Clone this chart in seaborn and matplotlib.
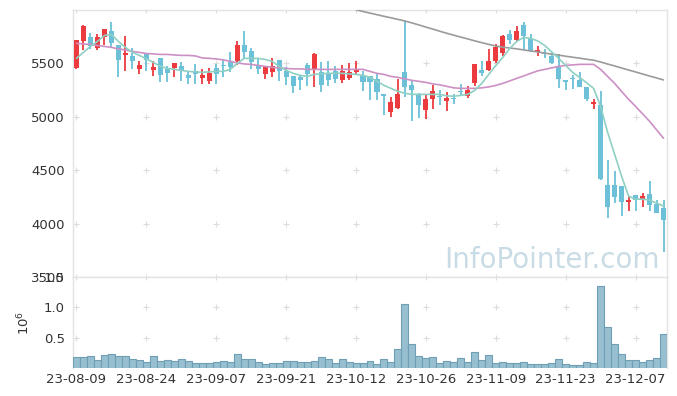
import numpy as np
import pandas as pd
import matplotlib
matplotlib.use("Agg")
import matplotlib.pyplot as plt
import seaborn as sns

# daily candles (KRW)
opens = [5456, 5706, 5743, 5643, 5746, 5799, 5668, 5578, 5565, 5444,
         5593, 5437, 5547, 5444, 5456, 5472, 5388, 5425, 5363, 5332,
         5456, 5488, 5509, 5519, 5668, 5612, 5478, 5400, 5416, 5528,
         5425, 5378, 5369, 5488, 5441, 5416, 5409, 5425, 5348, 5363,
         5419, 5378, 5378, 5357, 5217, 5045, 5082, 5416, 5301, 5201,
         5061, 5167, 5198, 5145, 5176, 5245, 5192, 5316, 5441, 5435,
         5519, 5596, 5778, 5721, 5862, 5731, 5606, 5596, 5565, 5478,
         5348, 5357, 5348, 5276, 5123, 5107, 4360, 4360, 4350, 4204,
         4266, 4220, 4273, 4180, 4142]
highs = [5720, 5864, 5780, 5774, 5825, 5883, 5668, 5752, 5643, 5519,
         5596, 5519, 5547, 5472, 5500, 5509, 5425, 5491, 5444, 5456,
         5491, 5528, 5603, 5712, 5799, 5643, 5547, 5465, 5547, 5528,
         5465, 5378, 5378, 5503, 5596, 5509, 5519, 5472, 5488, 5503,
         5519, 5425, 5378, 5400, 5217, 5185, 5357, 5899, 5332, 5222,
         5201, 5301, 5254, 5232, 5210, 5304, 5285, 5497, 5519, 5634,
         5680, 5768, 5815, 5846, 5883, 5774, 5665, 5634, 5596, 5590,
         5348, 5388, 5419, 5276, 5170, 5238, 4591, 4497, 4350, 4257,
         4266, 4288, 4397, 4217, 4217]
lows = [5450, 5621, 5631, 5624, 5668, 5650, 5369, 5425, 5444, 5400,
        5425, 5378, 5322, 5322, 5369, 5332, 5307, 5307, 5307, 5307,
        5307, 5369, 5416, 5488, 5547, 5444, 5400, 5350, 5369, 5338,
        5301, 5222, 5254, 5292, 5276, 5232, 5285, 5316, 5316, 5348,
        5388, 5238, 5161, 5161, 5021, 4995, 5077, 5185, 4958, 4989,
        4983, 5077, 5114, 5051, 5117, 5192, 5176, 5285, 5378, 5425,
        5503, 5565, 5681, 5706, 5628, 5606, 5565, 5550, 5497, 5269,
        5254, 5263, 5279, 5151, 5077, 4404, 4049, 4189, 4070, 4117,
        4117, 4157, 4117, 4095, 3736]
closes = [5715, 5846, 5665, 5743, 5818, 5690, 5531, 5596, 5519, 5481,
          5528, 5463, 5388, 5407, 5500, 5437, 5363, 5400, 5388, 5409,
          5400, 5472, 5465, 5668, 5606, 5509, 5447, 5465, 5478, 5432,
          5369, 5292, 5341, 5400, 5587, 5301, 5341, 5357, 5425, 5416,
          5441, 5325, 5325, 5232, 5198, 5136, 5217, 5279, 5248, 5107,
          5170, 5238, 5185, 5176, 5167, 5232, 5254, 5497, 5409, 5525,
          5652, 5759, 5721, 5799, 5759, 5612, 5628, 5590, 5503, 5354,
          5325, 5350, 5279, 5167, 5139, 4419, 4154, 4251, 4204, 4217,
          4220, 4257, 4173, 4101, 4033]
volumes = [176000, 176000, 197000, 131000, 208000, 225000, 192000, 192000, 143000, 131000,
           93000, 192000, 115000, 131000, 115000, 143000, 115000, 77000, 77000, 77000,
           93000, 115000, 93000, 225000, 143000, 143000, 93000, 61000, 77000, 77000,
           115000, 115000, 93000, 93000, 115000, 176000, 143000, 77000, 142000, 93000,
           77000, 77000, 115000, 61000, 142000, 93000, 307000, 1062000, 389000, 192000,
           159000, 175000, 77000, 115000, 93000, 159000, 93000, 257000, 131000, 208000,
           77000, 93000, 77000, 77000, 93000, 61000, 61000, 61000, 77000, 142000,
           61000, 44000, 44000, 93000, 77000, 1346000, 679000, 389000, 225000, 126000,
           126000, 93000, 126000, 159000, 553000]

# moving average lines as drawn on the chart
ma5 = [5547, 5604, 5659, 5706, 5762, 5771, 5706, 5650, 5603, 5575,
       5542, 5509, 5472, 5453, 5444, 5435, 5425, 5421, 5416, 5421,
       5425, 5425, 5444, 5500, 5547, 5547, 5547, 5537, 5519, 5472,
       5435, 5407, 5388, 5378, 5397, 5402, 5407, 5407, 5407, 5402,
       5397, 5388, 5369, 5332, 5294, 5266, 5238, 5220, 5210, 5210,
       5210, 5210, 5210, 5196, 5192, 5201, 5210, 5248, 5313, 5397,
       5481, 5556, 5640, 5706, 5743, 5734, 5710, 5668, 5607, 5547,
       5481, 5416, 5369, 5318, 5266, 5098, 4855, 4650, 4444, 4257,
       4229, 4229, 4220, 4192, 4164]
ma20 = [5687, 5682, 5678, 5668, 5659, 5650, 5636, 5626, 5612, 5603,
        5593, 5589, 5584, 5584, 5579, 5575, 5575, 5570, 5551, 5547,
        5542, 5533, 5519, 5505, 5495, 5491, 5481, 5472, 5463, 5458,
        5453, 5449, 5449, 5444, 5444, 5444, 5444, 5444, 5444, 5444,
        5444, 5444, 5425, 5407, 5397, 5378, 5369, 5355, 5341, 5332,
        5322, 5308, 5299, 5285, 5271, 5266, 5266, 5266, 5271, 5280,
        5294, 5313, 5336, 5360, 5383, 5407, 5430, 5444, 5458, 5472,
        5481, 5486, 5491, 5491, 5491, 5444, 5378, 5313, 5238, 5164,
        5098, 5028, 4958, 4879, 4799]
ma_long = [np.nan] * 40 + [
    6002, 5986, 5971, 5956, 5941, 5927, 5912, 5897, 5879, 5860,
    5840, 5821, 5801, 5782, 5764, 5746, 5729, 5711, 5694, 5678,
    5663, 5652, 5644, 5636, 5626, 5616, 5607, 5597, 5587, 5578,
    5567, 5558, 5549, 5539, 5530, 5513, 5494, 5476, 5457, 5438,
    5420, 5401, 5382, 5364, 5345]

tick_labels = ["23-08-09", "23-08-24", "23-09-07", "23-09-21", "23-10-12",
               "23-10-26", "23-11-09", "23-11-23", "23-12-07"]

sns.set_theme(style="white")
plt.rcParams["font.family"] = ["DejaVu Sans"]

df = pd.DataFrame({"Open": opens, "High": highs, "Low": lows, "Close": closes,
                   "Volume": volumes, "MA5": ma5, "MA20": ma20, "MALong": ma_long})
df["idx"] = np.arange(len(df))
df["VolM"] = df["Volume"] / 1e6

UP = "#ec3b3f"
DOWN = "#6cc0d8"
GRID = "#dcdcdc"
SPINE = "#e3e3e3"
TXT = "#333333"

fig = plt.figure(figsize=(6.77, 3.96), dpi=100)
ax = fig.add_axes([73 / 677, 1 - 277 / 396, 594 / 677, 267 / 396])
axv = fig.add_axes([73 / 677, 1 - 368 / 396, 594 / 677, 91 / 396], sharex=ax)

# watermark
ax.text(0.988, 0.035, "InfoPointer.com", transform=ax.transAxes, ha="right",
        va="baseline", fontsize=20, color="#c9dce6", zorder=0)

xt = list(range(0, 81, 10))
yt = [3500, 4000, 4500, 5000, 5500]
gx, gy = np.meshgrid(xt, yt + [6000])
ax.scatter(gx.ravel(), gy.ravel(), marker="+", s=22, color=GRID, linewidths=0.8, zorder=1)

# candles
colors = [UP if c >= o else DOWN for o, c in zip(df["Open"], df["Close"])]
ax.vlines(df["idx"], df["Low"], df["High"], colors=colors, linewidth=1.3, zorder=3)
body_lo = np.minimum(df["Open"], df["Close"])
body_h = np.maximum(np.abs(df["Close"] - df["Open"]), 12)
ax.bar(df["idx"], body_h, bottom=body_lo, width=0.72, color=colors, linewidth=0, zorder=4)

sns.lineplot(data=df, x="idx", y="MALong", ax=ax, color="#9b9b9b", linewidth=1.2, zorder=5)
sns.lineplot(data=df, x="idx", y="MA20", ax=ax, color="#cc90c5", linewidth=1.2, zorder=5)
sns.lineplot(data=df, x="idx", y="MA5", ax=ax, color="#8ed0c3", linewidth=1.2, zorder=5)

ax.set_xlim(-0.5, 84.5)
ax.set_ylim(3500, 6000)
ax.set_yticks(yt)
ax.set_yticklabels([str(v) for v in yt])
ax.set_xlabel("")
ax.set_ylabel("")
ax.tick_params(axis="x", labelbottom=False, length=0)
ax.tick_params(axis="y", length=0, labelsize=9.5, labelcolor=TXT, pad=6)

# volume
vx, vy = np.meshgrid(xt, [0.5, 1.0, 1.5])
axv.scatter(vx.ravel(), vy.ravel(), marker="+", s=22, color=GRID, linewidths=0.8, zorder=1)
axv.bar(df["idx"], df["VolM"], width=1.0, color="#97bfd0", edgecolor="#6e9fb5",
        linewidth=0.8, zorder=3)
axv.set_ylim(0, 1.5)
axv.set_yticks([0.5, 1.0, 1.5])
axv.set_yticklabels(["0.5", "1.0", "1.5"])
axv.set_xticks(xt)
axv.set_xticklabels(tick_labels)
axv.tick_params(axis="both", length=0, labelsize=9.5, labelcolor=TXT)
axv.tick_params(axis="y", pad=6)
axv.set_ylabel("$10^6$", fontsize=9.5, color=TXT, labelpad=8)

for a in (ax, axv):
    for s in a.spines.values():
        s.set_color(SPINE)
        s.set_linewidth(1)
axv.spines["bottom"].set_visible(False)

fig.savefig("out.png", dpi=100)
plt.close(fig)
